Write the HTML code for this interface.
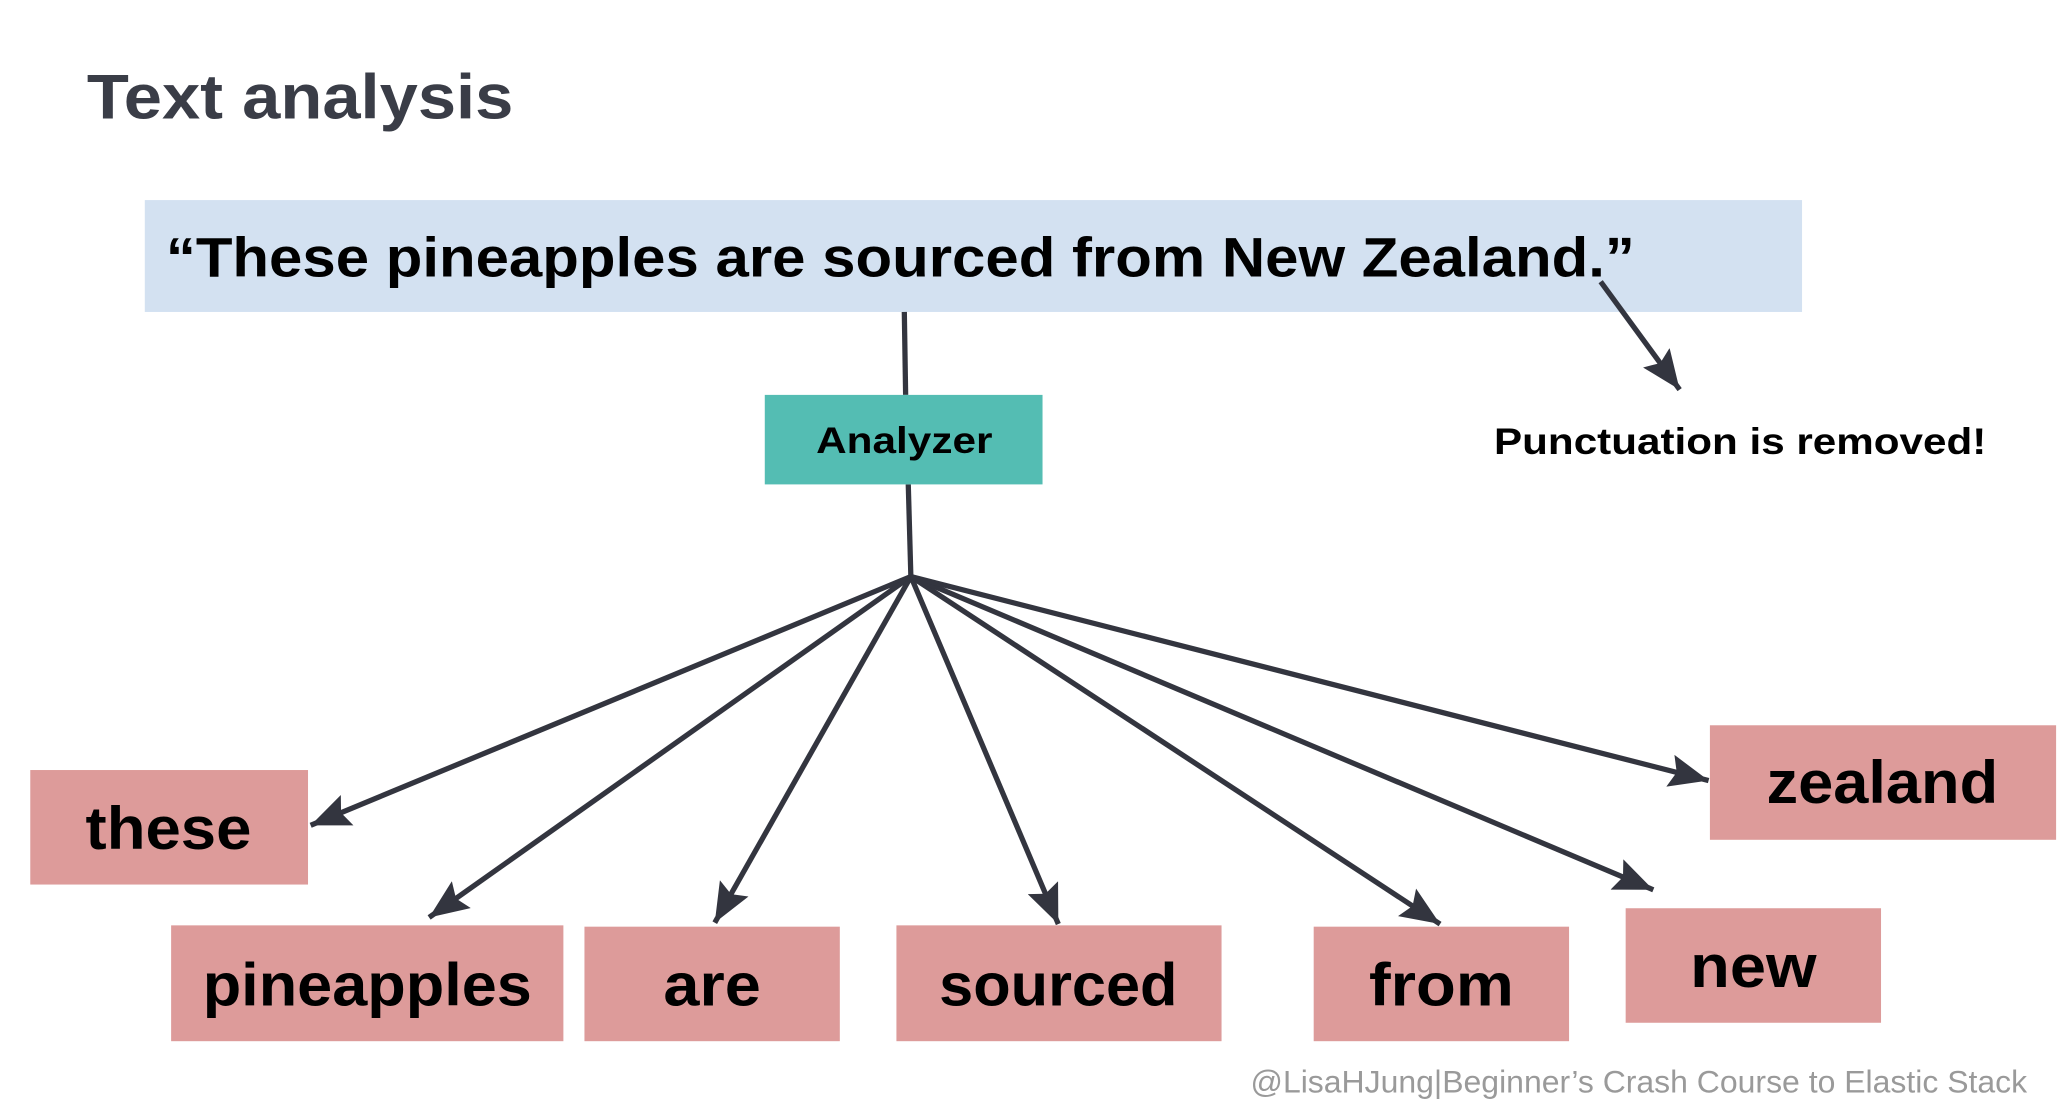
<!DOCTYPE html>
<html><head><meta charset="utf-8"><style>html,body{margin:0;padding:0;background:#fff;overflow:hidden}svg{display:block}</style></head>
<body>
<svg width="2064" height="1102" viewBox="0 0 1568 837.2" preserveAspectRatio="none" xmlns="http://www.w3.org/2000/svg" font-family="'Liberation Sans', sans-serif" font-weight="bold">
<defs>
<marker id="h" viewBox="0 0 12 10" refX="12" refY="5" markerWidth="30" markerHeight="25" markerUnits="userSpaceOnUse" orient="auto"><path d="M0,0 L12,5 L0,10 L2,5 z" fill="#33353f"/></marker>
</defs>
<text x="66" y="90" font-size="48" fill="#3a3d47" textLength="324" lengthAdjust="spacingAndGlyphs">Text analysis</text>
<rect x="110" y="152" width="1259" height="85" fill="#d3e1f1"/>
<text x="126" y="210" font-size="42" fill="#000" textLength="1116" lengthAdjust="spacingAndGlyphs">“These pineapples are sourced from New Zealand.”</text>
<g stroke="#33353f" stroke-width="4" fill="none">
<line x1="687" y1="237" x2="688" y2="300"/>
<line x1="690" y1="368" x2="692" y2="439"/>
<line x1="1216" y1="214" x2="1276" y2="296" marker-end="url(#h)"/>
<line x1="692" y1="438" x2="236" y2="627" marker-end="url(#h)"/>
<line x1="692" y1="438" x2="326" y2="697" marker-end="url(#h)"/>
<line x1="692" y1="438" x2="543" y2="701" marker-end="url(#h)"/>
<line x1="692" y1="438" x2="804" y2="702" marker-end="url(#h)"/>
<line x1="692" y1="438" x2="1094" y2="702" marker-end="url(#h)"/>
<line x1="692" y1="438" x2="1256" y2="676" marker-end="url(#h)"/>
<line x1="692" y1="438" x2="1298" y2="593" marker-end="url(#h)"/>
</g>
<rect x="581" y="300" width="211" height="68" fill="#54bdb3"/>
<text x="687" y="344" font-size="28" text-anchor="middle" fill="#000" textLength="134" lengthAdjust="spacingAndGlyphs">Analyzer</text>
<text x="1135" y="345" font-size="28" fill="#000" textLength="374" lengthAdjust="spacingAndGlyphs">Punctuation is removed!</text>
<g fill="#dd9b9a">
<rect x="23" y="585" width="211" height="87"/>
<rect x="130" y="703" width="298" height="88"/>
<rect x="444" y="704" width="194" height="87"/>
<rect x="681" y="703" width="247" height="88"/>
<rect x="998" y="704" width="194" height="87"/>
<rect x="1235" y="690" width="194" height="87"/>
<rect x="1299" y="551" width="263" height="87"/>
</g>
<g font-size="46" fill="#000" text-anchor="middle">
<text x="128" y="645" textLength="126" lengthAdjust="spacingAndGlyphs">these</text>
<text x="279" y="764" textLength="250" lengthAdjust="spacingAndGlyphs">pineapples</text>
<text x="541" y="764" textLength="74" lengthAdjust="spacingAndGlyphs">are</text>
<text x="804" y="764" textLength="181" lengthAdjust="spacingAndGlyphs">sourced</text>
<text x="1095" y="764" textLength="110" lengthAdjust="spacingAndGlyphs">from</text>
<text x="1332" y="750" textLength="96" lengthAdjust="spacingAndGlyphs">new</text>
<text x="1430" y="610" textLength="176" lengthAdjust="spacingAndGlyphs">zealand</text>
</g>
<text x="950" y="830" font-size="24" font-weight="normal" fill="#9a9a9a" textLength="590" lengthAdjust="spacingAndGlyphs">@LisaHJung|Beginner’s Crash Course to Elastic Stack</text>
</svg>
</body></html>
